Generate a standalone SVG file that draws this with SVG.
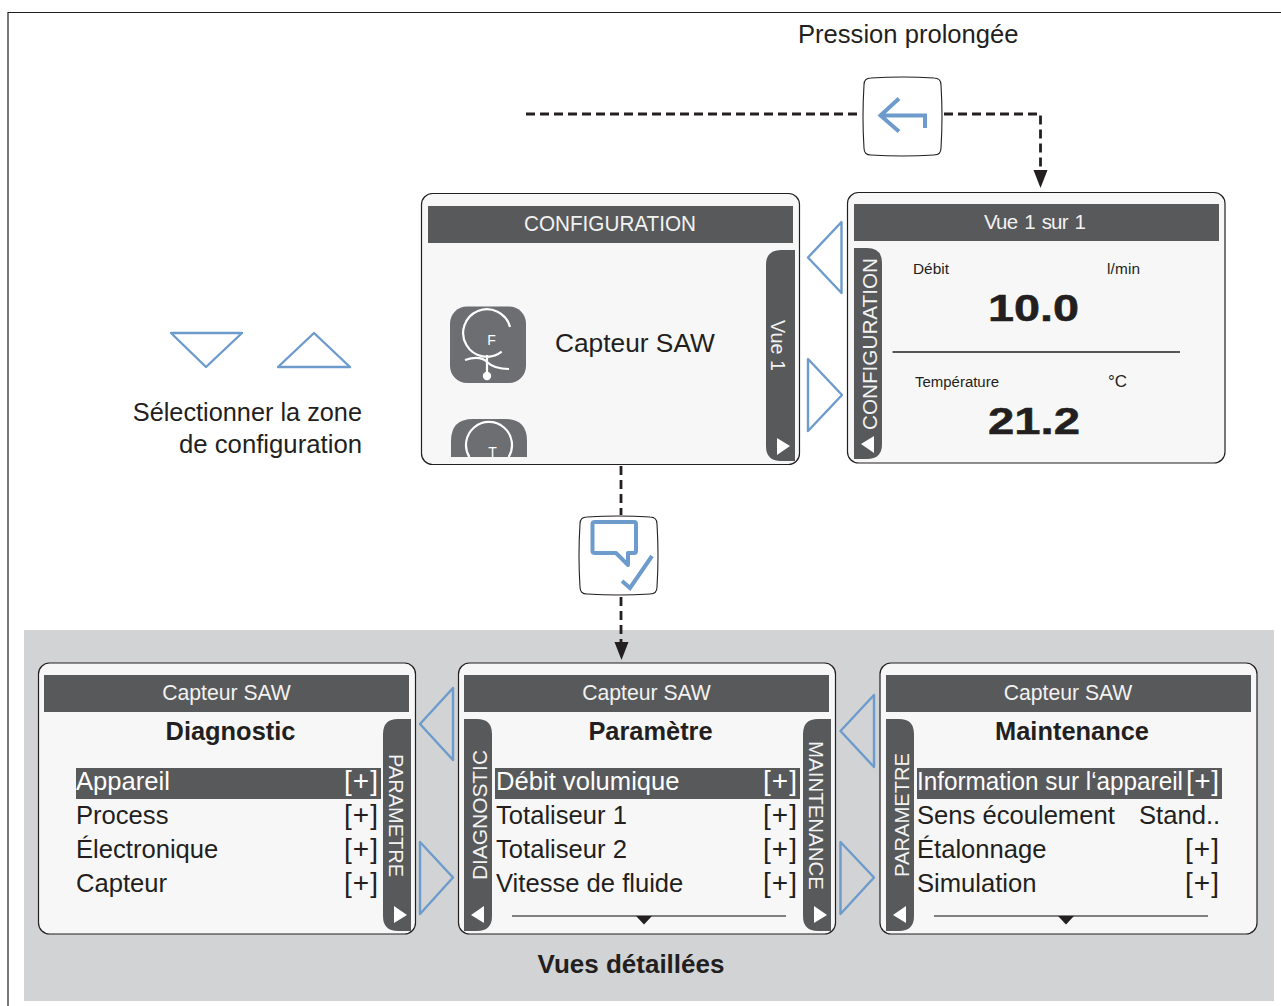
<svg xmlns="http://www.w3.org/2000/svg" width="1281" height="1006" viewBox="0 0 1281 1006">
<defs>
<path id="btn" d="M8 1Q40 -1 71 1Q78 1 78 8Q80 40 78 71Q78 78 71 78Q40 80 8 78Q1 78 1 71Q-1 40 1 8Q1 1 8 1Z" fill="#fff" stroke="#231f20" stroke-width="1.1"/>
<path id="arrowhead" d="M-7 0H7L0 18Z" fill="#231f20"/>
</defs>
<style>
text{font-family:"Liberation Sans",Arial,sans-serif;fill:#231f20}
.w{fill:#f2f2f2}
.panel{fill:#f7f7f7;stroke:#231f20;stroke-width:1.2}
.bar{fill:#58595b}
.tri{fill:none;stroke:#6d9bcb;stroke-width:2.4;stroke-linejoin:round}
.blue{fill:none;stroke:#6d9bcb;stroke-width:4}
.dash{fill:none;stroke:#231f20;stroke-width:2.8;stroke-dasharray:9 5}
.m{font-size:25.600px}
.p{font-size:28px}
.h{font-size:21.200px;text-anchor:middle}
.t{font-size:21px}
.b{font-size:25.400px;font-weight:bold;text-anchor:middle}
.s{font-size:15.400px}
.n{font-size:37px;font-weight:bold;stroke:#231f20;stroke-width:.5}
.lt{fill:#fff}
</style>
<rect x="24" y="630" width="1250" height="371" fill="#d1d3d4"/>
<path d="M8 1006V12.500H1281" fill="none" stroke="#231f20" stroke-width="1.200"/>

<g id="connectors">
<path class="dash" d="M526 114H860"/>
<path class="dash" d="M944 114H1040.500V172"/>
<use href="#arrowhead" x="1040.500" y="170"/>
<path class="dash" d="M621 466V515"/>
<path class="dash" d="M621 597V644"/>
<use href="#arrowhead" x="621.500" y="642"/>
</g>

<g id="label-press"><text x="798" y="43" font-size="25.600">Pression prolongée</text></g>
<g id="button-back">
<use href="#btn" x="863" y="77"/>
<path class="blue" d="M899 98.500L880.500 115.500L899 131.500M880.500 115.500H925V128"/>
</g>

<g id="select-hint">
<path class="tri" d="M171 333H242L206 367Z"/>
<path class="tri" d="M278 367H350L314 333Z"/>
<text x="362" y="421" font-size="25.300" text-anchor="end">Sélectionner la zone</text>
<text x="179" y="453" font-size="25.300" textLength="183" lengthAdjust="spacingAndGlyphs">de configuration</text>
</g>

<g id="screen-configuration">
<rect class="panel" x="421.500" y="193.500" width="378" height="271" rx="11"/>
<rect class="bar" x="428" y="206" width="365" height="37"/>
<text class="h w" x="610" y="231" textLength="172" lengthAdjust="spacingAndGlyphs">CONFIGURATION</text>
<path class="bar" d="M795 250V461H781Q766 461 766 446V265Q766 250 781 250Z"/>
<text class="t w" transform="translate(771 320) rotate(90)" font-size="20" textLength="51" lengthAdjust="spacingAndGlyphs">Vue 1</text>
<path d="M777 438L790 446L777 455Z" fill="#fff"/>
<rect x="450" y="306.500" width="76" height="76.500" rx="17" fill="#6d6e71"/>
<path d="M510 327A23.800 23.800 0 1 0 501.700 351.700" fill="none" stroke="#fff" stroke-width="2.200"/>
<text x="491.500" y="345" font-size="14" text-anchor="middle" style="fill:#fff">F</text>
<path d="M465 360Q480 355 487 362T509 369M487 355V375" fill="none" stroke="#fff" stroke-width="2.200"/>
<circle cx="487" cy="376" r="4.200" fill="#fff"/>
<path d="M451 457V441Q451 419 473 419H505Q527 419 527 441V457Z" fill="#6d6e71"/>
<path d="M469.400 457A23 23 0 1 1 508.600 457" fill="none" stroke="#fff" stroke-width="2.200"/>
<text x="492.500" y="457" font-size="14" text-anchor="middle" style="fill:#fff">T</text>
<text x="555" y="352" font-size="26.300">Capteur SAW</text>
</g>

<g id="nav-config-left"><path class="tri" d="M841.500 222V293L808 257.500Z"/></g>
<g id="nav-config-right"><path class="tri" d="M808 359V431L842 395Z"/></g>

<g id="screen-vue">
<rect class="panel" x="847.500" y="192.500" width="377.500" height="270.500" rx="11"/>
<rect class="bar" x="854" y="204" width="365" height="37"/>
<text class="h w" x="1035" y="229" textLength="102" style="word-spacing:2px;font-size:20.500px">Vue 1 sur 1</text>
<path class="bar" d="M854 248H867Q882 248 882 263V444Q882 459 867 459H854Z"/>
<text class="t w" transform="translate(877 430) rotate(-90)" textLength="172" lengthAdjust="spacingAndGlyphs">CONFIGURATION</text>
<path d="M874 436L861 444L874 453Z" fill="#fff"/>
<text class="s" x="913" y="274">Débit</text>
<text class="s" x="1107" y="274" textLength="33">l/min</text>
<text class="n" x="988" y="321" textLength="91" lengthAdjust="spacingAndGlyphs">10.0</text>
<path d="M892.500 352H1180" stroke="#231f20" stroke-width="1.300"/>
<text class="s" x="915" y="387" textLength="84" lengthAdjust="spacingAndGlyphs">Température</text>
<text class="s" x="1108" y="387" style="font-size:17px">°C</text>
<text class="n" x="988" y="434" textLength="92" lengthAdjust="spacingAndGlyphs">21.2</text>
</g>

<g id="button-confirm">
<use href="#btn" x="579" y="516"/>
<path class="blue" d="M595 522H634Q636 522 636 524V551Q636 553 634 553H628V565L616 553H595Q592.500 553 592.500 551V524Q592.500 522 595 522Z" stroke-linejoin="round"/>
<path class="blue" d="M622 581L630 588L652 556"/>
</g>

<g id="nav-a-left"><path class="tri" d="M453 688V760L420 724Z"/></g>
<g id="nav-a-right"><path class="tri" d="M420 842V914L453 877.500Z"/></g>
<g id="nav-b-left"><path class="tri" d="M874 695V767L840.500 731Z"/></g>
<g id="nav-b-right"><path class="tri" d="M840.500 842V914L874 877.500Z"/></g>

<g id="screen-diagnostic">
<rect class="panel" x="38.500" y="663" width="377" height="271" rx="11"/>
<rect class="bar" x="44" y="675" width="365" height="37"/>
<text class="h w" x="226.500" y="700">Capteur SAW</text>
<text class="b" x="230.500" y="740">Diagnostic</text>
<path class="bar" d="M411 719V931H398Q383 931 383 916V734Q383 719 398 719Z"/>
<text class="t w" transform="translate(389 754) rotate(90)" textLength="123" lengthAdjust="spacingAndGlyphs">PARAMETRE</text>
<path d="M394 906L407 915L394 923Z" fill="#fff"/>
<rect class="bar" x="76" y="768" width="305" height="31"/>
<text class="m lt" x="76" y="790">Appareil</text><text class="p lt" x="344" y="790" textLength="34">[+]</text>
<text class="m" x="76" y="824">Process</text><text class="p" x="344" y="824" textLength="34">[+]</text>
<text class="m" x="76" y="858">Électronique</text><text class="p" x="344" y="858" textLength="34">[+]</text>
<text class="m" x="76" y="892">Capteur</text><text class="p" x="344" y="892" textLength="34">[+]</text>
</g>

<g id="screen-parametre">
<rect class="panel" x="458.500" y="663" width="377" height="271" rx="11"/>
<rect class="bar" x="464" y="675" width="365" height="37"/>
<text class="h w" x="646.500" y="700">Capteur SAW</text>
<text class="b" x="650.500" y="740">Paramètre</text>
<path class="bar" d="M464 719H477Q492 719 492 734V916Q492 931 477 931H464Z"/>
<text class="t w" transform="translate(487 880) rotate(-90)" textLength="130" lengthAdjust="spacingAndGlyphs">DIAGNOSTIC</text>
<path d="M484 906L471 915L484 923Z" fill="#fff"/>
<path class="bar" d="M831 719V931H818Q803 931 803 916V734Q803 719 818 719Z"/>
<text class="t w" transform="translate(809 741) rotate(90)" textLength="149" lengthAdjust="spacingAndGlyphs">MAINTENANCE</text>
<path d="M814 906L827 915L814 923Z" fill="#fff"/>
<rect class="bar" x="495" y="768" width="305" height="31"/>
<text class="m lt" x="496" y="790">Débit volumique</text><text class="p lt" x="763" y="790" textLength="34">[+]</text>
<text class="m" x="496" y="824">Totaliseur 1</text><text class="p" x="763" y="824" textLength="34">[+]</text>
<text class="m" x="496" y="858">Totaliseur 2</text><text class="p" x="763" y="858" textLength="34">[+]</text>
<text class="m" x="496" y="892">Vitesse de fluide</text><text class="p" x="763" y="892" textLength="34">[+]</text>
<path d="M512 916H786" stroke="#58595b" stroke-width="1.300"/>
<path d="M636 916H652L644 924.500Z" fill="#231f20"/>
</g>

<g id="screen-maintenance">
<rect class="panel" x="880" y="663" width="377" height="271" rx="11"/>
<rect class="bar" x="886" y="675" width="365" height="37"/>
<text class="h w" x="1068" y="700">Capteur SAW</text>
<text class="b" x="1072" y="740">Maintenance</text>
<path class="bar" d="M886 719H899Q914 719 914 734V916Q914 931 899 931H886Z"/>
<text class="t w" transform="translate(909 877) rotate(-90)" textLength="124" lengthAdjust="spacingAndGlyphs">PARAMETRE</text>
<path d="M906 906L893 915L906 923Z" fill="#fff"/>
<rect class="bar" x="917" y="768" width="305" height="31"/>
<text class="m lt" x="917" y="790" textLength="266" lengthAdjust="spacingAndGlyphs">Information sur l‘appareil</text><text class="p lt" x="1186" y="790" textLength="33">[+]</text>
<text class="m" x="917" y="824">Sens écoulement</text><text class="m" x="1139" y="824">Stand..</text>
<text class="m" x="917" y="858">Étalonnage</text><text class="p" x="1185" y="858" textLength="34">[+]</text>
<text class="m" x="917" y="892">Simulation</text><text class="p" x="1185" y="892" textLength="34">[+]</text>
<path d="M934 916H1208" stroke="#58595b" stroke-width="1.300"/>
<path d="M1058 916H1074L1066 924.500Z" fill="#231f20"/>
</g>

<g id="label-details"><text x="631" y="973" class="b" style="font-size:26px">Vues détaillées</text></g>
</svg>
